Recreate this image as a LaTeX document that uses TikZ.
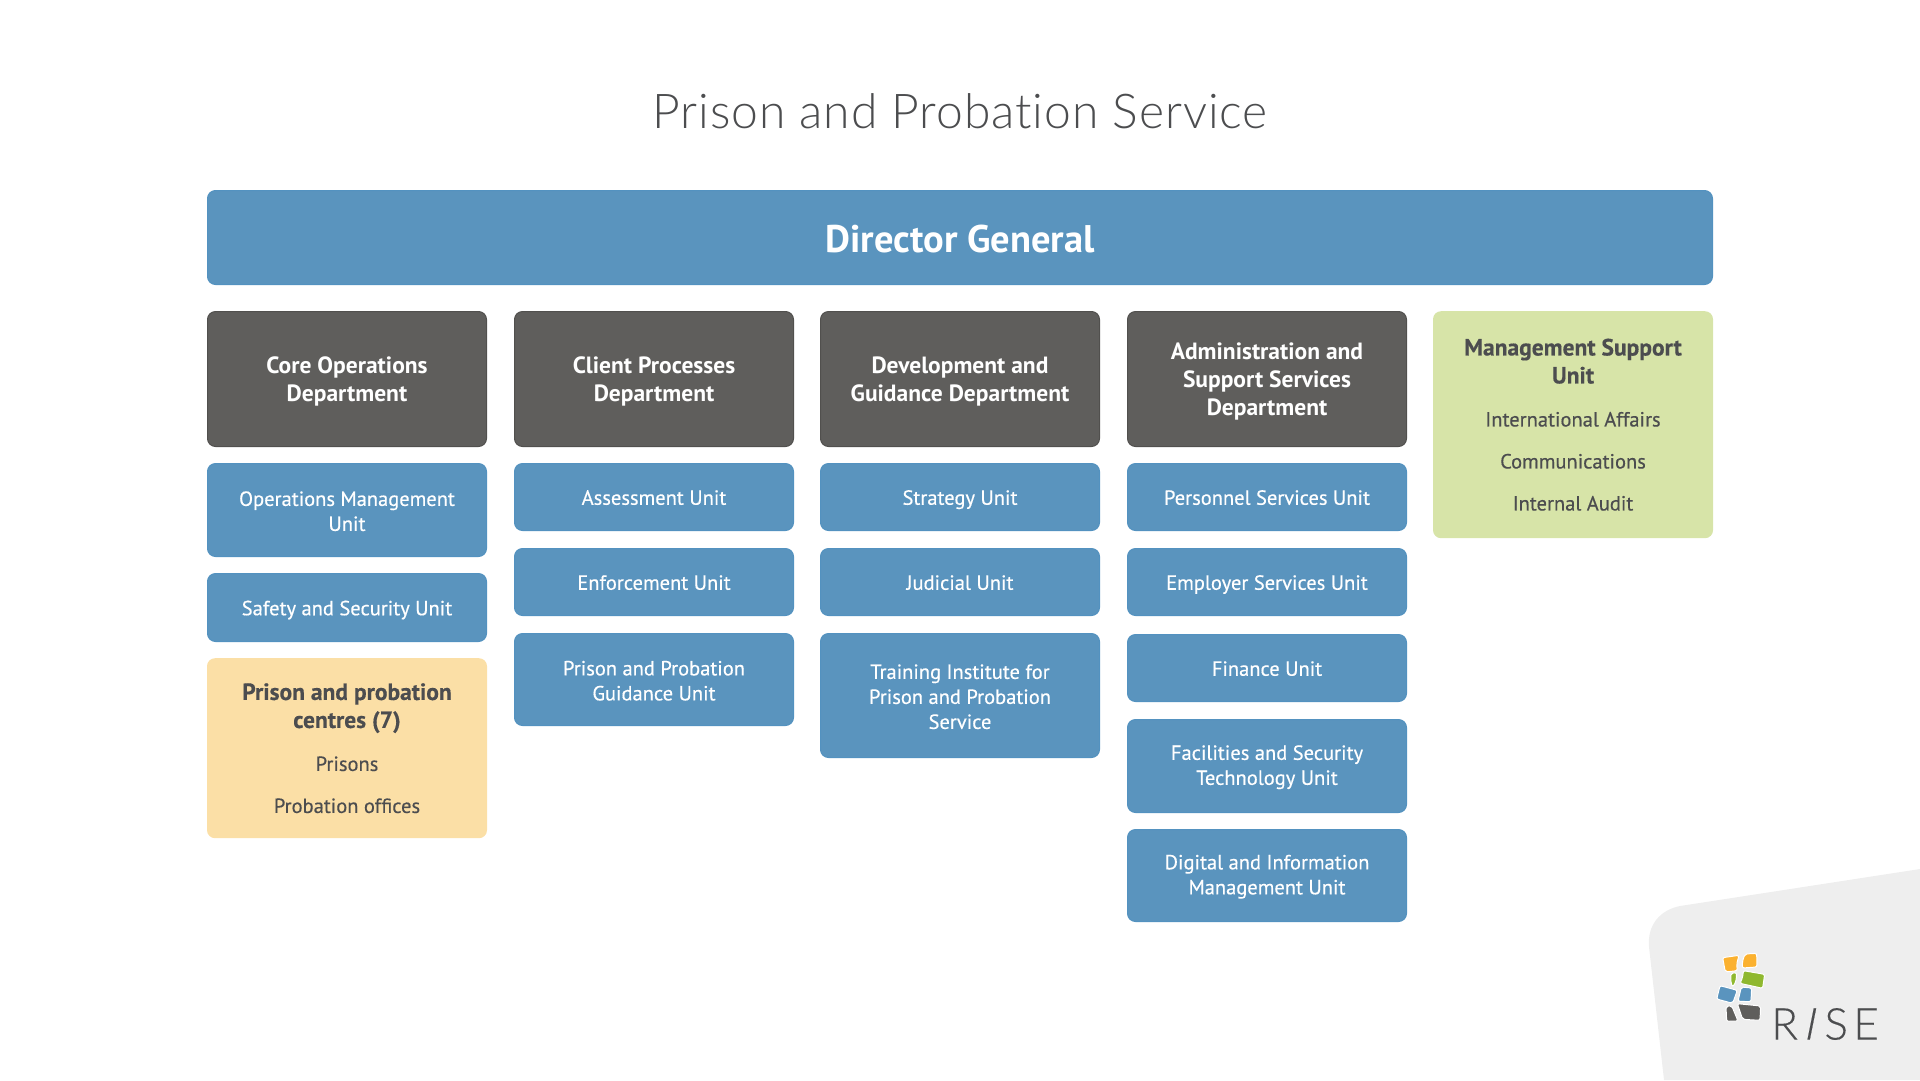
\documentclass[tikz,border=0pt]{standalone}
\usepackage{fontspec}
\setmainfont{PT Sans}
\newfontfamily\unitfont[FakeBold=0.4]{PT Sans}
\newfontfamily\titlefont[Ligatures=NoCommon, LetterSpace=2]{Lato Light}
\newfontfamily\logofont[Ligatures=NoCommon, LetterSpace=12, FakeBold=0.3]{Lato Light}
\newcommand{\leadtext}[1]{{\bfseries\fontsize{23.5}{28}\selectfont #1}}
\newcommand{\unittop}{\rule{0pt}{17pt}}
\newcommand{\depttop}{\rule{0pt}{22pt}}
\definecolor{boxblue}{HTML}{5A94BE}
\definecolor{edgeblue}{HTML}{5392C0}
\definecolor{boxdark}{HTML}{5F5E5C}
\definecolor{boxsand}{HTML}{FBDFA6}
\definecolor{boxlime}{HTML}{D7E4A8}
\definecolor{inkdark}{HTML}{4C4D4F}
\definecolor{cornergrey}{HTML}{EEEEEE}
\definecolor{logoorange}{HTML}{FBB12F}
\definecolor{logogreen}{HTML}{8FB82F}
\tikzset{
	anybox/.style={rectangle, rounded corners=8pt, anchor=north, minimum width=279pt, inner sep=0pt, align=center},
	unitbox/.style={anybox, draw=edgeblue, line width=1pt, fill=boxblue, text=white, font=\unitfont\fontsize{20.5}{25}\selectfont},
	oneline/.style={unitbox, execute at begin node=\rule{0pt}{23pt}, execute at end node=\strut},
	deptbox/.style={anybox, draw=boxdark!85!black, line width=1pt, fill=boxdark, text=white, font=\bfseries\fontsize{23.5}{28}\selectfont},
	extrabox/.style={anybox, minimum width=280pt, text=inkdark, font=\unitfont\fontsize{20.5}{25}\selectfont},
	logopiece/.style={draw=white, line width=1pt, rounded corners=2pt},
}
\begin{document}
\begin{tikzpicture}[x=1pt, y=-1pt]
	\useasboundingbox (0,0) rectangle (1920,1080);
	% corner and logo
	\fill[cornergrey] (1920,869) -- (1680,906) .. controls (1660,910) and (1647,925) .. (1649,947) -- (1664,1080) -- (1920,1080) -- cycle;
	\begin{scope}[shift={(1600,840)}, x=0.3333pt, y=-0.3333pt]
		\draw[logopiece, fill=logoorange] (368,353) -- (417,346) -- (410,372) -- (412,392) -- (376,396) -- cycle;
		\draw[logopiece, fill=logoorange] (435,342) -- (470,340) -- (471,381) -- (427,384) -- (427,365) -- cycle;
		\draw[logopiece, fill=logogreen] (392,400) -- (410,398) -- (408,425) -- (398,441) -- (393,430) -- cycle;
		\draw[logopiece, fill=logogreen] (430,392) -- (494,403) -- (488,445) -- (420,430) -- (428,412) -- cycle;
		\draw[logopiece, fill=boxblue] (360,437) -- (412,451) -- (398,490) -- (350,477) -- cycle;
		\draw[logopiece, fill=boxblue] (424,441) -- (455,444) -- (453,485) -- (414,484) -- cycle;
		\draw[logopiece, fill=boxdark] (378,499) -- (395,497) -- (414,543) -- (380,544) -- cycle;
		\draw[logopiece, fill=boxdark] (412,491) -- (482,498) -- (480,541) -- (428,538) -- cycle;
	\end{scope}
	\node (logoword) at (1825,1024)[text=inkdark, inner sep=0pt, font=\logofont\fontsize{44}{44}\selectfont]{R\kern5pt{\addfontfeature{FakeSlant=0.2}I}\kern10pt SE};
	% title
	\node (title) at (960,111)[text=inkdark, inner sep=0pt, font=\titlefont\fontsize{48}{48}\selectfont]{Prison and Probation Service};
	\node (director) at (960,190)[anybox, minimum width=1505pt, minimum height=94pt, draw=edgeblue, line width=1pt, fill=boxblue, text=white, font=\bfseries\fontsize{38.5}{42}\selectfont, execute at begin node=\rule{0pt}{31.5pt}]{Director General};
	% departments
	\node (coredept) at (347,311)[deptbox, minimum height=135pt]{\depttop Core Operations\\Department};
	\node (clientdept) at (654,311)[deptbox, minimum height=135pt]{\depttop Client Processes\\Department};
	\node (devdept) at (960,311)[deptbox, minimum height=135pt]{\depttop Development and\\Guidance Department};
	\node (admindept) at (1267,311)[deptbox, minimum height=135pt]{\depttop Administration and\\Support Services\\Department};
	\node (mgmtunit) at (1573,311)[extrabox, fill=boxlime, minimum height=227pt]{\leadtext{Management Support}\\[3pt]\leadtext{Unit}\\[18pt]International Affairs\\[17pt]Communications\\[17pt]Internal Audit};
	% first column
	\node (opsunit) at (347,463)[unitbox, minimum height=93pt]{\unittop Operations Management\\Unit};
	\node (safetyunit) at (347,573)[oneline, minimum height=68pt]{Safety and Security Unit};
	\node (centres) at (347,658)[extrabox, fill=boxsand, minimum height=180pt]{\leadtext{Prison and probation}\\[3pt]\leadtext{centres (7)}\\[18pt]Prisons\\[17pt]Probation offices};
	% second column
	\node (assessunit) at (654,463)[oneline, minimum height=67pt]{Assessment Unit};
	\node (enforceunit) at (654,548)[oneline, minimum height=67pt]{Enforcement Unit};
	\node (guideunit) at (654,633)[unitbox, minimum height=92pt]{\unittop Prison and Probation\\Guidance Unit};
	% third column
	\node (stratunit) at (960,463)[oneline, minimum height=67pt]{Strategy Unit};
	\node (judicunit) at (960,548)[oneline, minimum height=67pt]{Judicial Unit};
	\node (trainunit) at (960,633)[unitbox, minimum height=124pt]{\unittop Training Institute for\\Prison and Probation\\Service};
	% fourth column
	\node (persunit) at (1267,463)[oneline, minimum height=67pt]{Personnel Services Unit};
	\node (emplunit) at (1267,548)[oneline, minimum height=67pt]{Employer Services Unit};
	\node (finunit) at (1267,634)[oneline, minimum height=67pt]{Finance Unit};
	\node (facilunit) at (1267,719)[unitbox, minimum height=93pt]{\unittop Facilities and Security\\Technology Unit};
	\node (digiunit) at (1267,829)[unitbox, minimum height=92pt]{\unittop Digital and Information\\Management Unit};
\end{tikzpicture}
\end{document}
